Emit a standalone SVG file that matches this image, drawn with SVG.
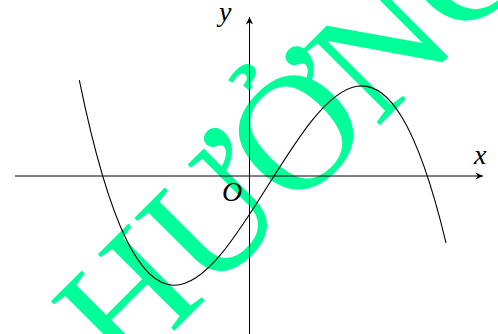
<svg xmlns="http://www.w3.org/2000/svg" width="498" height="334" viewBox="0 0 498 334">
<defs>
<style>
.wm{font-family:"Liberation Serif","Times New Roman",serif;font-size:165px;fill:#00FF99}
.lbl{font-family:"Liberation Serif","Times New Roman",serif;font-style:italic;font-size:28px;fill:#000}
.axis{stroke:#000;stroke-width:1;fill:none}
.curve{stroke:#000;stroke-width:1.1;fill:none}
</style>
<marker id="arr" viewBox="-8 -4 9 8" markerWidth="9" markerHeight="8" refX="0" refY="0" orient="auto" markerUnits="userSpaceOnUse">
<path d="M0,0 L-7.5,-3.6 L-5.2,0 L-7.5,3.6 Z" fill="#000"/>
</marker>
</defs>
<rect width="498" height="334" fill="#fff"/>
<g id="watermark">
<text class="wm" x="124 243 362 481 600" y="381" transform="rotate(-45 124 381)">HƯỞNG</text>
</g>
<g id="axes">
<line class="axis" x1="15" y1="176" x2="483" y2="176" marker-end="url(#arr)"/>
<line class="axis" x1="249.5" y1="334" x2="249.5" y2="17" marker-end="url(#arr)"/>
</g>
<g id="graph">
<path class="curve" d="M79.3,80.08 C201.53,675.05 323.77,-265.13 446,242.8"/>
</g>
<g id="labels">
<text class="lbl" x="219" y="21">y</text>
<text class="lbl" x="474" y="164">x</text>
<text class="lbl" x="222" y="201">O</text>
</g>
</svg>
